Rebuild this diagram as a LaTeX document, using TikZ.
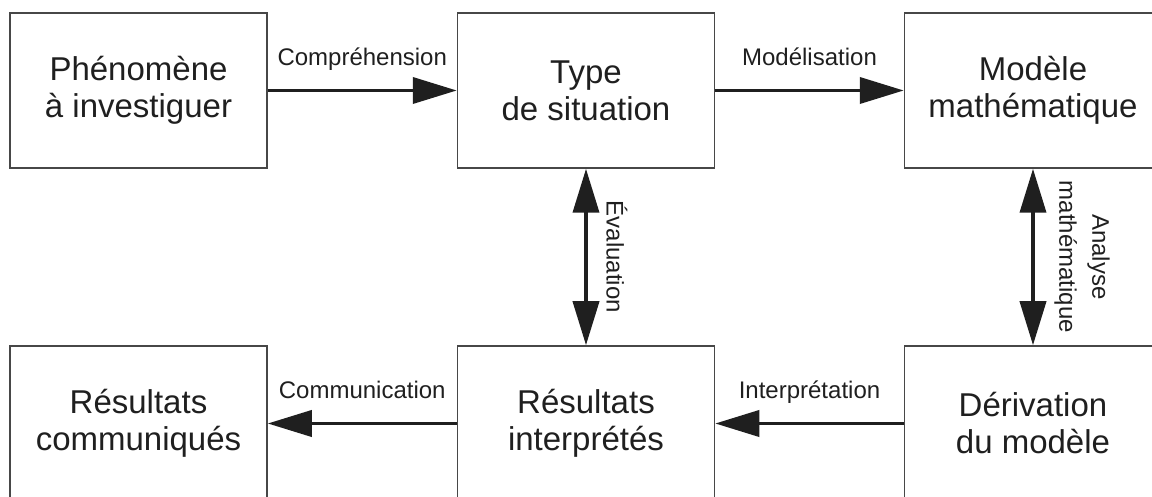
\documentclass[tikz,border=0pt]{standalone}
\usepackage{fontspec}
\setmainfont{Liberation Sans}
\usetikzlibrary{arrows.meta}
\begin{document}
\begin{tikzpicture}[x=1pt,y=1pt,
  box/.style={draw=black!72, line width=1.5pt, minimum width=257pt, minimum height=155pt,
    inner sep=0pt, align=center, text=black!88, font=\fontsize{33}{37}\selectfont},
  arr/.style={line width=3.8pt, draw=black!88, -{Triangle[length=44pt,width=26pt]}},
  darr/.style={line width=3.8pt, draw=black!88, {Triangle[length=44pt,width=26pt]}-{Triangle[length=44pt,width=26pt]}},
  lab/.style={text=black!88, font=\fontsize{24}{33}\selectfont, inner sep=0pt}]
\useasboundingbox (0,0) rectangle (1152,497);
\clip (0,0) rectangle (1152,497);
\node[box] (b1) at (138.5,406.5) {Phénomène\\à investiguer};
\node[box] (b2) at (586,406.5) {Type\\de situation};
\node[box] (b3) at (1033,406.5) {Modèle\\mathématique};
\node[box] (b4) at (138.5,73.5) {Résultats\\communiqués};
\node[box] (b5) at (586,73.5) {Résultats\\interprétés};
\node[box] (b6) at (1033,73.5) {Dérivation\\du modèle};
\draw[arr] (b1) -- (b2) node[lab, midway, yshift=25pt, anchor=base] (l1) {Compréhension};
\draw[arr] (b2) -- (b3) node[lab, midway, yshift=25pt, anchor=base] (l2) {Modélisation};
\draw[arr] (b6) -- (b5) node[lab, midway, yshift=25pt, anchor=base] (l3) {Interprétation};
\draw[arr] (b5) -- (b4) node[lab, midway, yshift=25pt, anchor=base] (l4) {Communication};
\draw[darr] (b2) -- (b5) node[lab, midway, xshift=31pt, rotate=-90] (l5) {Évaluation};
\draw[darr] (b3) -- (b6) node[lab, midway, xshift=49pt, rotate=-90, align=center] (l6) {Analyse\\mathématique};
\end{tikzpicture}
\end{document}
